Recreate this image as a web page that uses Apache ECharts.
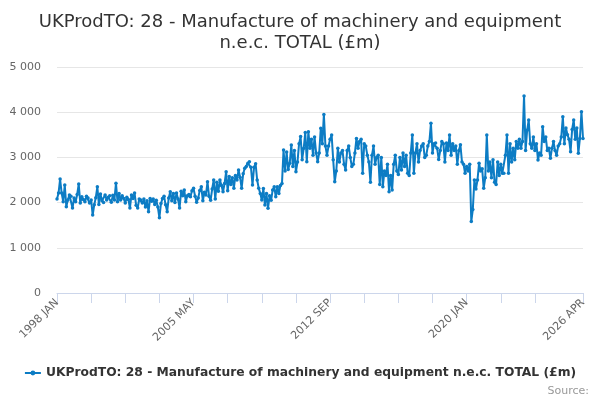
<!DOCTYPE html>
<html>
<head>
<meta charset="utf-8">
<script src="https://cdn.jsdelivr.net/npm/echarts@6/dist/echarts.min.js"></script>
<style>
  html, body { margin: 0; padding: 0; background: #fff; }
  #chart { width: 600px; height: 400px; }
</style>
</head>
<body>
<div id="chart"></div>
<script>
const MONTHS = ['JAN', 'FEB', 'MAR', 'APR', 'MAY', 'JUN', 'JUL', 'AUG', 'SEP', 'OCT', 'NOV', 'DEC'];
const START_YEAR = 1998;
const SERIES_NAME = 'UKProdTO: 28 - Manufacture of machinery and equipment n.e.c. TOTAL (£m)';

// monthly turnover, £m, one row per year
const values = [
  2080, 2210, 2520, 2210, 2020, 2390, 1910, 2060, 2170, 2140, 1880, 2100, // 1998
  2020, 2180, 2410, 1990, 2130, 2070, 2020, 2140, 2100, 1990, 2060, 1725, // 1999
  1950, 2110, 2350, 1960, 2190, 2040, 2000, 2170, 2060, 2120, 2150, 2010, // 2000
  2160, 2060, 2430, 2020, 2200, 2060, 2150, 2090, 1990, 2120, 2070, 1880, // 2001
  2170, 2090, 2210, 1940, 1880, 2080, 2060, 1990, 2080, 1900, 2040, 1800, // 2002
  2090, 2030, 2080, 1960, 2050, 1900, 1665, 1980, 2090, 2140, 1950, 1800, // 2003
  2100, 2240, 2040, 2200, 2000, 2210, 2080, 1880, 2250, 2150, 2280, 2020, // 2004
  2150, 2180, 2130, 2260, 2315, 2140, 2010, 2100, 2270, 2350, 2040, 2230, // 2005
  2170, 2460, 2140, 2050, 2300, 2500, 2080, 2450, 2250, 2500, 2380, 2240, // 2006
  2420, 2685, 2260, 2580, 2400, 2550, 2320, 2600, 2500, 2720, 2560, 2315, // 2007
  2640, 2760, 2800, 2870, 2905, 2780, 2390, 2780, 2860, 2500, 2320, 2200, // 2008
  2057, 2310, 1947, 2200, 1873, 2150, 2050, 2280, 2350, 2130, 2350, 2200, // 2009
  2380, 2425, 3165, 2700, 3120, 2730, 2870, 3275, 2800, 3150, 2680, 2900, // 2010
  3300, 3460, 2950, 3200, 3550, 2905, 3570, 3200, 3400, 3050, 3450, 3100, // 2011
  2905, 3100, 3645, 3300, 3950, 3250, 3050, 3250, 3400, 3495, 2950, 2460, // 2012
  2700, 3200, 2900, 3100, 3150, 2850, 2720, 3150, 3250, 3000, 2800, 2850, // 2013
  3100, 3420, 3200, 3350, 3400, 2650, 3300, 3250, 3050, 2900, 2450, 3050, // 2014
  3250, 2850, 3000, 3050, 2400, 3000, 2350, 2700, 2600, 2850, 2240, 2600, // 2015
  2280, 2850, 3050, 2700, 2620, 3000, 2720, 3100, 2800, 3050, 2650, 2600, // 2016
  3100, 3495, 2650, 3100, 3300, 2900, 3150, 3250, 3300, 3000, 3050, 3250, // 2017
  3350, 3755, 3100, 3300, 3320, 3200, 2955, 3150, 3350, 3300, 2900, 3320, // 2018
  3150, 3495, 3050, 3300, 3150, 3250, 2850, 3150, 3280, 2900, 2850, 2650, // 2019
  2800, 2700, 2850, 1580, 1850, 2500, 2300, 2500, 2870, 2700, 2750, 2315, // 2020
  2550, 3495, 2700, 2900, 2550, 2950, 2450, 2400, 2900, 2600, 2850, 2650, // 2021
  2650, 3050, 3495, 2650, 3300, 2900, 3200, 2950, 3350, 3200, 3400, 3200, // 2022
  3350, 4360, 3150, 3600, 3830, 3300, 3200, 3450, 3150, 3300, 2940, 3100, // 2023
  3050, 3680, 3350, 3450, 3150, 3200, 2980, 3200, 3350, 3150, 3050, 3250, // 2024
  3300, 3450, 3900, 3300, 3650, 3500, 3400, 3125, 3620, 3830, 3400, 3650, // 2025
  3090, 3420, 4010, 3420                                                  // 2026
];

const categories = values.map((v, i) =>
  (START_YEAR + Math.floor(i / 12)) + ' ' + MONTHS[i % 12]);

const LAST = categories.length - 1;
const LABEL_STEP = 88;
const TICK_STEP = 22;

const yTicks = { min: 0, max: 5000, interval: 1000 };

const chart = echarts.init(document.getElementById('chart'), null, { renderer: 'canvas' });

chart.setOption({
  animation: false,
  textStyle: { fontFamily: 'DejaVu Sans' },
  title: {
    text: 'UKProdTO: 28 - Manufacture of machinery and equipment\nn.e.c. TOTAL (£m)',
    left: 'center',
    top: 7,
    textStyle: { fontSize: 18, fontWeight: 'normal', color: '#333', lineHeight: 21 }
  },
  legend: {
    bottom: 16,
    left: 'center',
    itemWidth: 16,
    itemHeight: 6,
    itemGap: 4,
    textStyle: { fontSize: 12.3, fontWeight: 'bold', color: '#333' },
    data: [SERIES_NAME]
  },
  graphic: [{
    type: 'text',
    right: 11,
    bottom: 3,
    style: { text: 'Source:', fontSize: 11, fill: '#999', fontFamily: 'DejaVu Sans' }
  }],
  grid: { left: 57, right: 17, top: 67, bottom: 107 },
  xAxis: {
    type: 'category',
    data: categories,
    boundaryGap: false,
    axisLine: { lineStyle: { color: '#ccd6eb' } },
    axisTick: {
      length: 10,
      lineStyle: { color: '#ccd6eb' },
      interval: (i) => (i % TICK_STEP === 0 && i <= LAST - 31) || i === LAST
    },
    axisLabel: {
      rotate: 45,
      color: '#666',
      fontSize: 11,
      margin: 8,
      interval: (i) => i % LABEL_STEP === 0 || i === LAST
    }
  },
  yAxis: {
    type: 'value',
    min: yTicks.min,
    max: yTicks.max,
    interval: yTicks.interval,
    axisLine: { show: false },
    axisTick: { show: false },
    splitLine: { lineStyle: { color: '#e6e6e6' } },
    axisLabel: {
      color: '#666',
      fontSize: 11,
      margin: 16,
      formatter: (v) => String(v).replace(/\B(?=(\d{3})+(?!\d))/g, ' ')
    }
  },
  series: [{
    name: SERIES_NAME,
    type: 'line',
    data: values,
    showSymbol: true,
    showAllSymbol: true,
    symbol: 'circle',
    symbolSize: 3.5,
    itemStyle: { color: '#0c7cc4' },
    lineStyle: { width: 2, color: '#0c7cc4' }
  }]
});
</script>
</body>
</html>
